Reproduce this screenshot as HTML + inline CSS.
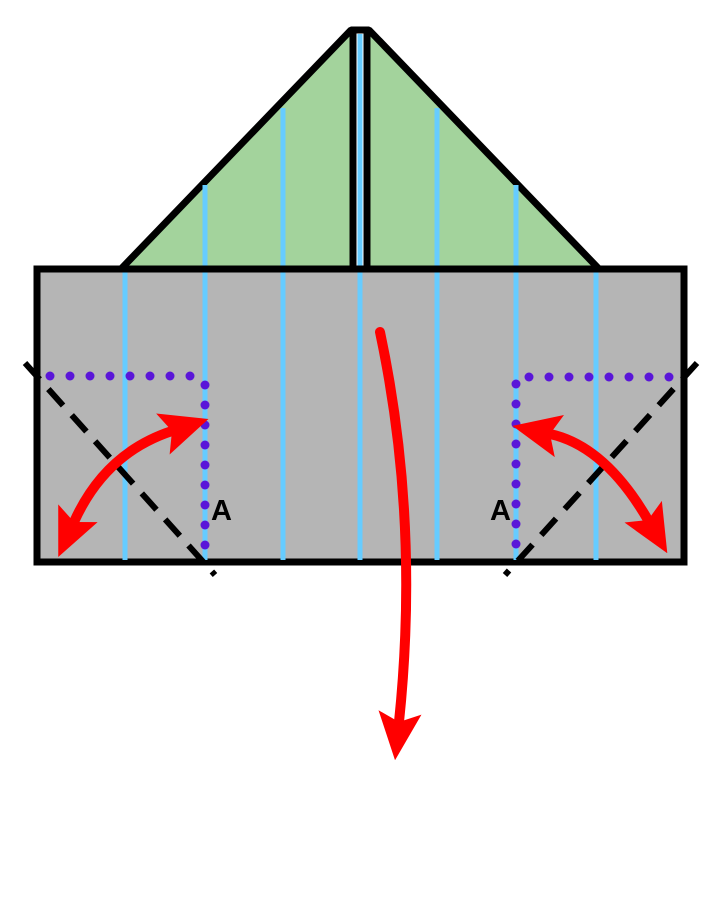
<!DOCTYPE html>
<html><head><style>html,body{margin:0;padding:0;background:#fff}svg{display:block}</style></head>
<body>
<svg width="720" height="904" viewBox="0 0 720 904" xmlns="http://www.w3.org/2000/svg">
<defs>
<marker id="ah" markerUnits="userSpaceOnUse" markerWidth="48" markerHeight="48" refX="8" refY="18" orient="auto-start-reverse" viewBox="0 0 40 36">
<path d="M0,0 L40,18 L0,36 L8,18 Z" fill="#f00"/>
</marker>
</defs>
<!-- triangles -->
<polygon points="120,270 353,30 353,270" fill="#a3d39c"/>
<polygon points="367,30 600,270 367,270" fill="#a3d39c"/>
<path d="M120,270 L351,30 L369,30 L600,270" fill="none" stroke="#000" stroke-width="7" stroke-linejoin="bevel"/>
<!-- rect -->
<rect x="37" y="269" width="647" height="293" fill="#b5b5b5" stroke="#000" stroke-width="7"/>
<!-- blue lines -->
<g stroke="#66ccff" stroke-width="5">
<line x1="125" y1="272" x2="125" y2="560"/>
<line x1="205" y1="185" x2="205" y2="560"/>
<line x1="283" y1="108" x2="283" y2="560"/>
<line x1="360" y1="34" x2="360" y2="560"/>
<line x1="437" y1="108" x2="437" y2="560"/>
<line x1="516" y1="185" x2="516" y2="560"/>
<line x1="596" y1="272" x2="596" y2="560"/>
</g>
<line x1="353" y1="30" x2="353" y2="268" stroke="#000" stroke-width="7"/>
<line x1="367" y1="30" x2="367" y2="268" stroke="#000" stroke-width="7"/>
<line x1="37" y1="269" x2="684" y2="269" stroke="#000" stroke-width="7"/>
<!-- dashed -->
<g stroke="#000" stroke-width="6" stroke-dasharray="22,13">
<line x1="25" y1="363" x2="215" y2="575"/>
<line x1="697" y1="363" x2="505" y2="575"/>
</g>
<!-- dots -->
<g fill="#5a16d8">
<circle cx="50" cy="376" r="4.5"/><circle cx="70" cy="376" r="4.5"/><circle cx="90" cy="376" r="4.5"/><circle cx="110" cy="376" r="4.5"/><circle cx="130" cy="376" r="4.5"/><circle cx="150" cy="376" r="4.5"/><circle cx="170" cy="376" r="4.5"/><circle cx="190" cy="376" r="4.5"/>
<circle cx="205" cy="385" r="4.5"/><circle cx="205" cy="405" r="4.5"/><circle cx="205" cy="425" r="4.5"/><circle cx="205" cy="445" r="4.5"/><circle cx="205" cy="465" r="4.5"/><circle cx="205" cy="485" r="4.5"/><circle cx="205" cy="505" r="4.5"/><circle cx="205" cy="525" r="4.5"/><circle cx="205" cy="545" r="4.5"/>
<circle cx="529" cy="377" r="4.5"/><circle cx="549" cy="377" r="4.5"/><circle cx="569" cy="377" r="4.5"/><circle cx="589" cy="377" r="4.5"/><circle cx="609" cy="377" r="4.5"/><circle cx="629" cy="377" r="4.5"/><circle cx="649" cy="377" r="4.5"/><circle cx="669" cy="377" r="4.5"/>
<circle cx="516" cy="384" r="4.5"/><circle cx="516" cy="404" r="4.5"/><circle cx="516" cy="424" r="4.5"/><circle cx="516" cy="444" r="4.5"/><circle cx="516" cy="464" r="4.5"/><circle cx="516" cy="484" r="4.5"/><circle cx="516" cy="504" r="4.5"/><circle cx="516" cy="524" r="4.5"/><circle cx="516" cy="544" r="4.5"/>
</g>
<!-- labels -->
<g font-family="Liberation Sans, sans-serif" font-weight="bold" font-size="29" fill="#000">
<text x="211" y="520">A</text>
<text x="490" y="520">A</text>
</g>
<!-- red arrows -->
<g fill="none" stroke="#f00" stroke-width="10" stroke-linecap="round">
<path d="M74,522 Q105,453 172,431" marker-start="url(#ah)" marker-end="url(#ah)"/>
<path d="M550,434 Q605,446 648,520" marker-start="url(#ah)" marker-end="url(#ah)"/>
<path d="M380,332 Q420,520 399,722" marker-end="url(#ah)"/>
</g>
</svg>
</body></html>
